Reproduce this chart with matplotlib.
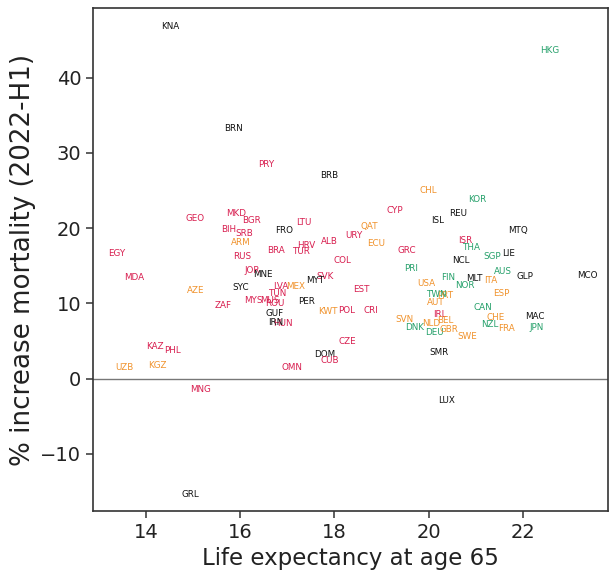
import matplotlib
matplotlib.use("Agg")
import matplotlib.pyplot as plt

codes = ["KNA", "BRN", "PRY", "BRB", "HKG", "CHL", "KOR", "CYP", "REU", "ISL",
         "MTQ", "QAT", "GEO", "MKD", "BGR", "BIH", "SRB", "ARM", "FRO", "LTU",
         "URY", "ECU", "ALB", "HRV", "TUR", "BRA", "RUS", "EGY", "MDA", "COL",
         "GRC", "ISR", "THA", "SGP", "LIE", "NCL", "PRI", "AUS", "GLP", "MCO",
         "FIN", "MLT", "ITA", "NOR", "USA", "ESP", "PRT", "TWN", "AUT", "CAN",
         "MAC", "JPN", "CHE", "NZL", "FRA", "SVN", "DNK", "NLD", "IRL", "BEL",
         "DEU", "GBR", "SWE", "SMR", "LUX", "GRL", "MNG", "UZB", "KGZ", "KAZ",
         "PHL", "AZE", "ZAF", "MYS", "SYC", "JOR", "MNE", "LVA", "MEX", "TUN",
         "MUS", "ROU", "GUF", "HUN", "IRN", "PER", "KWT", "POL", "CRI", "EST",
         "SVK", "MYT", "OMN", "DOM", "CUB", "CZE"]

life_exp = [14.51, 15.85, 16.56, 17.89, 22.57, 19.99, 21.03, 19.27, 20.63, 20.19,
            21.90, 18.73, 15.04, 15.91, 16.23, 15.76, 16.08, 16.01, 16.94, 17.34,
            18.42, 18.88, 17.89, 17.41, 17.29, 16.77, 16.04, 13.39, 13.75, 18.17,
            19.53, 20.77, 20.90, 21.34, 21.69, 20.68, 19.63, 21.58, 22.04, 23.36,
            20.41, 20.96, 21.32, 20.77, 19.94, 21.53, 20.35, 20.16, 20.15, 21.15,
            22.25, 22.29, 21.42, 21.29, 21.64, 19.48, 19.70, 20.05, 20.23, 20.36,
            20.13, 20.42, 20.81, 20.22, 20.37, 14.95, 15.15, 13.55, 14.25, 14.19,
            14.56, 15.05, 15.64, 16.27, 16.01, 16.25, 16.49, 16.86, 17.18, 16.79,
            16.64, 16.73, 16.72, 16.91, 16.76, 17.41, 17.87, 18.26, 18.78, 18.56,
            17.81, 17.59, 17.10, 17.80, 17.89, 18.28]

mortality = [46.84, 33.22, 28.43, 26.97, 43.59, 24.97, 23.83, 22.41, 21.88, 21.04,
             19.75, 20.19, 21.30, 21.97, 20.98, 19.88, 19.22, 18.15, 19.71, 20.77,
             19.04, 18.02, 18.22, 17.71, 16.95, 17.09, 16.20, 16.56, 13.46, 15.72,
             17.06, 18.32, 17.39, 16.29, 16.56, 15.63, 14.67, 14.26, 13.54, 13.67,
             13.43, 13.36, 13.06, 12.41, 12.66, 11.26, 11.10, 11.22, 10.13, 9.38,
             8.22, 6.76, 8.05, 7.18, 6.62, 7.87, 6.81, 7.34, 8.54, 7.78,
             6.09, 6.49, 5.56, 3.46, -2.86, -15.36, -1.44, 1.44, 1.76, 4.23,
             3.79, 11.64, 9.77, 10.44, 12.10, 14.43, 13.87, 12.23, 12.27, 11.37,
             10.44, 10.04, 8.67, 7.29, 7.51, 10.24, 8.94, 8.98, 9.11, 11.90,
             13.63, 13.03, 1.49, 3.13, 2.33, 4.89]

groups = ["k", "k", "r", "k", "g", "o", "g", "r", "k", "k",
          "k", "o", "r", "r", "r", "r", "r", "o", "k", "r",
          "r", "o", "r", "r", "r", "r", "r", "r", "r", "r",
          "r", "r", "g", "g", "k", "k", "g", "g", "k", "k",
          "g", "k", "o", "g", "o", "o", "o", "g", "o", "g",
          "k", "g", "o", "g", "o", "o", "g", "o", "r", "o",
          "g", "o", "o", "k", "k", "k", "r", "o", "o", "r",
          "r", "o", "r", "r", "k", "r", "k", "r", "o", "r",
          "r", "r", "k", "r", "k", "k", "o", "r", "r", "r",
          "r", "k", "r", "k", "r", "r"]

group_colors = {"k": "#111111", "r": "#d81e4f", "o": "#f0922c", "g": "#25a06a"}

fig = plt.figure(figsize=(6.10, 5.75), dpi=100)
ax = fig.add_axes([0.1525, 0.1113, 0.8442, 0.8747])

for c, xv, yv, gr in zip(codes, life_exp, mortality, groups):
    ax.text(xv, yv, c, ha="center", va="center", fontsize=6.3,
            color=group_colors[gr])

ax.axhline(0, color="#777777", linewidth=1.0, zorder=0)

ax.set_xlim(12.88, 23.80)
ax.set_ylim(-17.62, 49.27)
ax.set_xticks([14, 16, 18, 20, 22])
ax.set_yticks([-10, 0, 10, 20, 30, 40])
ax.tick_params(labelsize=14, length=5, width=1.1, color="#333333", labelcolor="#222222")
for s in ax.spines.values():
    s.set_linewidth(1.2)
    s.set_color("#333333")

ax.set_xlabel("Life expectancy at age 65", fontsize=16.5, color="#222222")
ax.set_ylabel("% increase mortality (2022-H1)", fontsize=18.8, color="#222222",
              labelpad=3)

fig.savefig("out.png", dpi=100)
